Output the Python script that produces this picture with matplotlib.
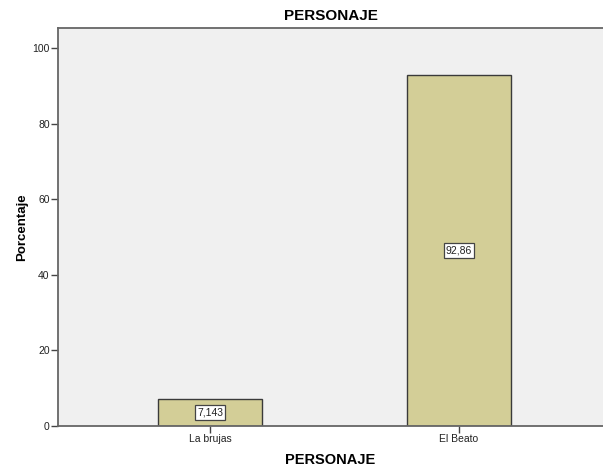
import matplotlib.pyplot as plt

# Data
categories = ["La brujas", "El Beato"]
percentages = [7.143, 92.86]
value_labels = ["7,143", "92,86"]
yticks = [0, 20, 40, 60, 80, 100]

plt.rcParams['font.family'] = ['Liberation Sans', 'DejaVu Sans']

fig = plt.figure(figsize=(6.03, 4.70), dpi=100)
ax = fig.add_axes([58 / 603, 44 / 470, 545 / 603, 398 / 470])
ax.set_facecolor('#f0f0f0')

x = range(len(categories))
bars = ax.bar(x, percentages, width=0.42, color='#d3ce97',
              edgecolor='#3a3a3a', linewidth=1.0, zorder=2)

# value boxes in the middle of each bar
for b, lab in zip(bars, value_labels):
    ax.text(b.get_x() + b.get_width() / 2, b.get_height() / 2, lab,
            ha='center', va='center', fontsize=7.5, color='#222222',
            bbox=dict(boxstyle='square,pad=0.2', fc='white', ec='#444444', lw=0.9),
            zorder=3)

ax.set_xlim(-0.61, 1.578)
ax.set_ylim(0, 105.3)
ax.set_xticks(list(x))
ax.set_xticklabels(categories, fontsize=7.5)
ax.set_yticks(yticks)
ax.set_yticklabels([str(t) for t in yticks], fontsize=7.5)
ax.tick_params(axis='both', direction='out', length=5, width=1, color='#444444',
               labelcolor='#222222', pad=1)

for s in ['left', 'bottom', 'top']:
    ax.spines[s].set_color('#666666')
    ax.spines[s].set_linewidth(1.3)
ax.spines['right'].set_visible(False)

ax.set_title("PERSONAJE", fontsize=11, fontweight='bold', pad=6)
ax.set_xlabel("PERSONAJE", fontsize=10.5, fontweight='bold', labelpad=6)
ax.set_ylabel("Porcentaje", fontsize=9.5, fontweight='bold', labelpad=3)

fig.savefig("out.png", dpi=100)
